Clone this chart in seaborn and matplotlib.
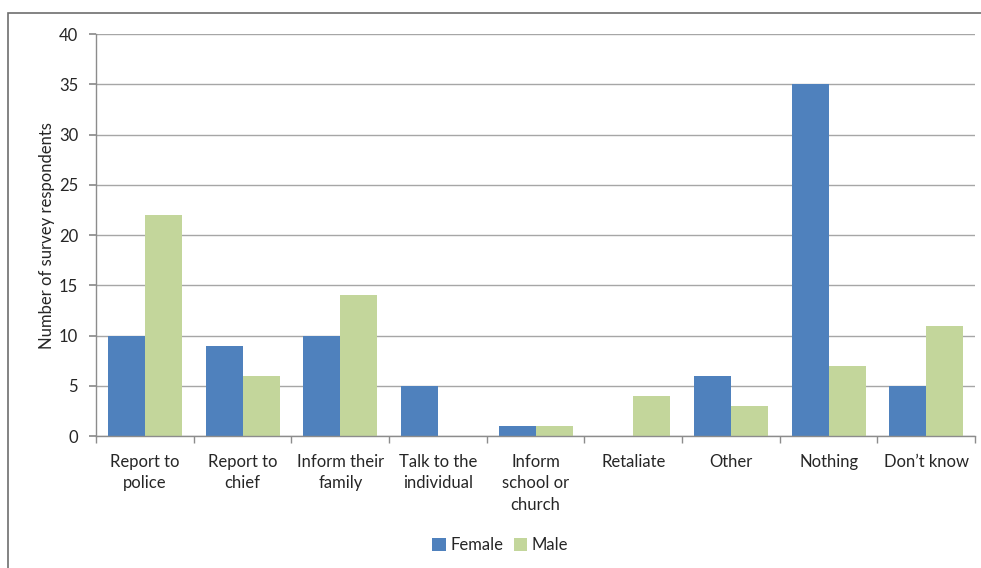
import matplotlib

matplotlib.use("Agg")
import matplotlib.pyplot as plt
import numpy as np
import pandas as pd
import seaborn as sns
from matplotlib.patches import Rectangle

categories = [
    "Report to\npolice",
    "Report to\nchief",
    "Inform their\nfamily",
    "Talk to the\nindividual",
    "Inform\nschool or\nchurch",
    "Retaliate",
    "Other",
    "Nothing",
    "Don\u2019t know",
]
female = [10, 9, 10, 5, 1, 0, 6, 35, 5]
male = [22, 6, 14, 0, 1, 4, 3, 7, 11]
y_ticks = [0, 5, 10, 15, 20, 25, 30, 35, 40]

df = pd.DataFrame(
    {
        "category": categories * 2,
        "value": female + male,
        "sex": ["Female"] * len(categories) + ["Male"] * len(categories),
    }
)

sns.set_theme(style="white")
plt.rcParams["font.family"] = ["Lato", "DejaVu Sans"]

fig = plt.figure(figsize=(9.81, 5.68), dpi=100)
ax = fig.add_axes([0.098, 0.232, 0.896, 0.708])

sns.barplot(
    data=df,
    x="category",
    y="value",
    hue="sex",
    order=categories,
    palette={"Female": "#4F81BD", "Male": "#C3D69B"},
    width=0.76,
    saturation=1,
    linewidth=0,
    ax=ax,
    legend=True,
)

ax.set_ylim(0, 40)
ax.set_xlim(-0.5, len(categories) - 0.5)
ax.set_yticks(y_ticks)
ax.yaxis.grid(True, color="#A6A6A6", linewidth=1)
ax.set_axisbelow(True)
for side in ["top", "right"]:
    ax.spines[side].set_visible(False)
for side in ["left", "bottom"]:
    ax.spines[side].set_color("#8C8C8C")
    ax.spines[side].set_linewidth(1)

ax.tick_params(axis="y", length=5, color="#8C8C8C", labelsize=12, pad=8, left=True)
ax.tick_params(axis="x", which="major", length=0, labelsize=12, pad=13)
ax.set_xticks(np.arange(-0.5, len(categories)), minor=True)
ax.tick_params(axis="x", which="minor", length=5, color="#8C8C8C", bottom=True)
ax.set_xticklabels(categories, linespacing=1.4)
ax.set_xlabel("")
ax.set_ylabel("Number of survey respondents", fontsize=12, labelpad=3)

ax.legend(
    loc="center",
    bbox_to_anchor=(0.51, 1 - 545 / 568),
    bbox_transform=fig.transFigure,
    ncol=2,
    frameon=False,
    fontsize=12,
    handlelength=0.8,
    handleheight=0.8,
    handletextpad=0.3,
    columnspacing=0.6,
)

# outer chart frame (only left and top edges fall inside the image)
fig.patches.append(
    Rectangle(
        (8 / 981, -0.2),
        1.2,
        1.2 - 13 / 568,
        transform=fig.transFigure,
        fill=False,
        edgecolor="#6E6E6E",
        linewidth=1.2,
        clip_on=False,
    )
)

fig.savefig("out.png", dpi=100)
